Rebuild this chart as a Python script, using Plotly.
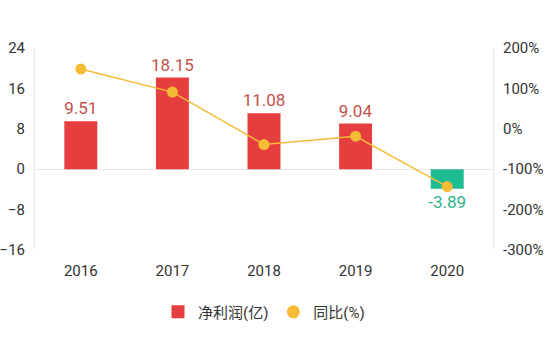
import plotly.graph_objects as go

years = ["2016", "2017", "2018", "2019", "2020"]
profit = [9.51, 18.15, 11.08, 9.04, -3.89]
yoy = [148, 90.8, -39.0, -18.4, -143.0]
left_ticks = [-16, -8, 0, 8, 16, 24]
right_ticks = [-300, -200, -100, 0, 100, 200]
right_labels = [f"{v}%" for v in right_ticks]

RED = "#E63E3E"
GREEN = "#1DBB92"
ORANGE = "#F6BB35"
RED_TXT = "#C4504B"
GREEN_TXT = "#2DB38C"

bar_colors = [RED if v >= 0 else GREEN for v in profit]
txt_colors = [RED_TXT if v >= 0 else GREEN_TXT for v in profit]

fig = go.Figure()
fig.add_trace(go.Bar(
    x=years, y=profit, marker=dict(color=bar_colors, line=dict(width=0)),
    text=[f"{v:.2f}" for v in profit], textposition="outside",
    textfont=dict(color=txt_colors, size=17), cliponaxis=False,
    constraintext="none", showlegend=False, yaxis="y"))
fig.add_trace(go.Scatter(
    x=years, y=yoy, mode="lines+markers", yaxis="y2",
    line=dict(color=ORANGE, width=1.5), marker=dict(color=ORANGE, size=11),
    showlegend=False, cliponaxis=False))
fig.add_trace(go.Scatter(x=[None], y=[None], mode="markers", name="净利润(亿)",
                         marker=dict(symbol="square", color=RED, size=13)))
fig.add_trace(go.Scatter(x=[None], y=[None], mode="markers", name="同比(%)",
                         marker=dict(symbol="circle", color=ORANGE, size=13)))

fig.update_layout(
    width=550, height=337,
    margin=dict(l=35, r=57, t=48, b=87, autoexpand=False),
    paper_bgcolor="white", plot_bgcolor="white",
    font=dict(family="Roboto, Noto Sans CJK SC, sans-serif", size=15, color="#333333"),
    bargap=0.64,
    xaxis=dict(showgrid=False, showline=False, ticks="", ticklabelstandoff=10,
               automargin=False, tickfont=dict(size=15, color="#333333")),
    yaxis=dict(range=[-16, 24], tickvals=left_ticks, showgrid=False,
               showline=True, linecolor="#E8E8E8", linewidth=1,
               zeroline=True, zerolinecolor="#E6E6E6", zerolinewidth=1,
               ticks="", ticklabelstandoff=6, automargin=False),
    yaxis2=dict(range=[-300, 200], tickvals=right_ticks, ticktext=right_labels,
                overlaying="y", side="right", showgrid=False, zeroline=False,
                showline=True, linecolor="#E8E8E8", linewidth=1,
                ticks="", ticklabelstandoff=6, automargin=False),
    legend=dict(orientation="h", x=0.5, xanchor="center", xref="paper",
                yref="container", y=0.074, yanchor="middle",
                font=dict(size=15, color="#333333"), itemwidth=30,
                bgcolor="rgba(0,0,0,0)"),
)
fig.write_html("out.html")
